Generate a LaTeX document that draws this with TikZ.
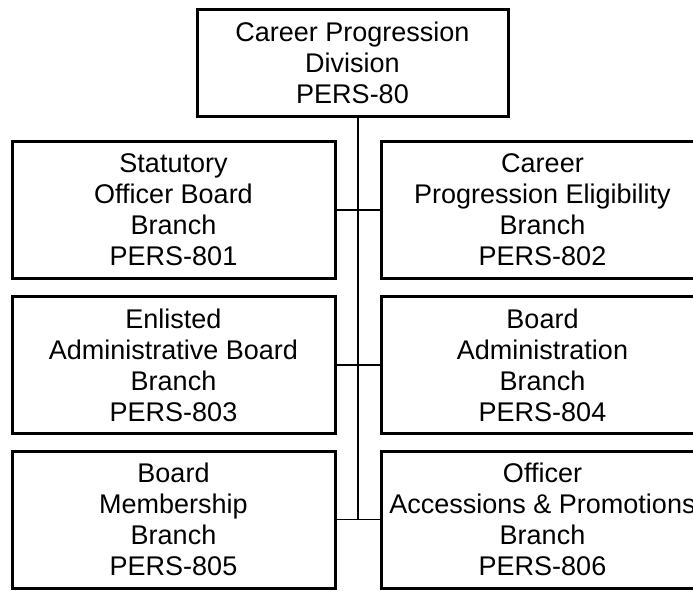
\documentclass[tikz,border=0pt]{standalone}
\usepackage{fontspec}
\setmainfont{Liberation Sans}

\tikzset{
    branch/.style={draw, line width=3pt, minimum width=323pt, minimum height=137pt,
        inner sep=0pt, align=center, font=\fontsize{27}{31}\selectfont},
    link/.style={line width=1.5pt}
}

\begin{document}
\begin{tikzpicture}[x=1pt, y=-1pt]
        \useasboundingbox (0, 0) rectangle (693, 590);

        \node (div) at (352.5, 62.5) [branch, minimum width=311pt, minimum height=107pt]
            {Career Progression\\Division\\PERS-80};

        \node (b801) at (173.5, 210) [branch] {Statutory\\Officer Board\\Branch\\PERS-801};
        \node (b802) at (542.5, 210) [branch] {Career\\Progression Eligibility\\Branch\\PERS-802};
        \node (b803) at (173.5, 365) [branch] {Enlisted\\Administrative Board\\Branch\\PERS-803};
        \node (b804) at (542.5, 365) [branch] {Board\\Administration\\Branch\\PERS-804};
        \node (b805) at (173.5, 519.5) [branch] {Board\\Membership\\Branch\\PERS-805};
        \node (b806) at (542.5, 519.5) [branch] {Officer\\Accessions \& Promotions\\Branch\\PERS-806};

        \coordinate (spine) at (358, 519.5);
        \draw[link] (div.south -| spine) -- (spine);

        \draw[link] (b801) -- (b802);
        \draw[link] (b803) -- (b804);
        \draw[link] (b805) -- (b806);
    \end{tikzpicture}
\end{document}
